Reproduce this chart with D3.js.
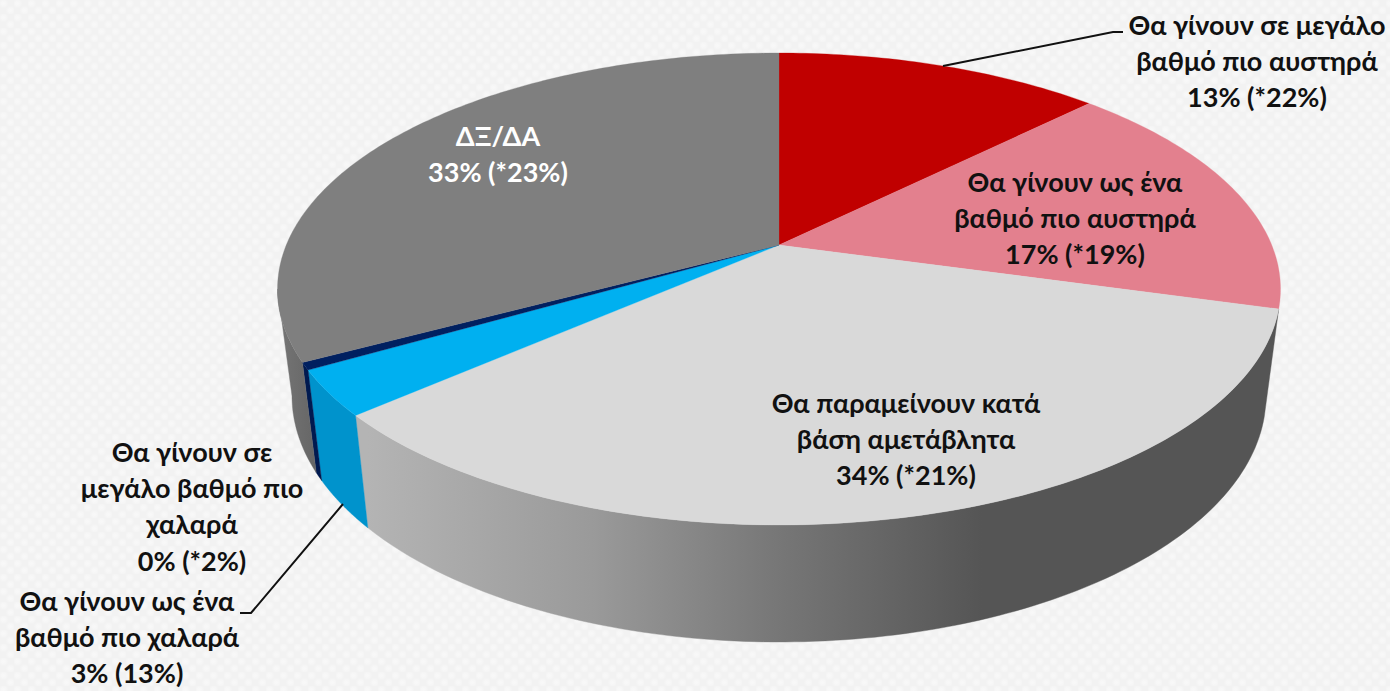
<!DOCTYPE html>
<html><head><meta charset="utf-8">
<script src="https://cdn.jsdelivr.net/npm/d3@7/dist/d3.min.js"></script>
<style>html,body{margin:0;padding:0;background:#f4f4f4;overflow:hidden}</style>
</head><body><svg id="c" width="1390" height="691"></svg>
<script>
const categories=["Θα γίνουν σε μεγάλο βαθμό πιο αυστηρά","Θα γίνουν ως ένα βαθμό πιο αυστηρά","Θα παραμείνουν κατά βάση αμετάβλητα","Θα γίνουν ως ένα βαθμό πιο χαλαρά","Θα γίνουν σε μεγάλο βαθμό πιο χαλαρά","ΔΞ/ΔΑ"];
const values=[12.6,16.7,34.3,3.1,0.5,32.8];
const topColors=["#c00000","#e3808e","#d9d9d9","#00b0f0","#002060","#7f7f7f"];
const wallColors=[null,null,"url(#wallGrad)","#0093cc","#001a50","url(#wallGray)"];
const labelLines=[
 ["Θα γίνουν σε μεγάλο","βαθμό πιο αυστηρά","13% (*22%)"],
 ["Θα γίνουν ως ένα","βαθμό πιο αυστηρά","17% (*19%)"],
 ["Θα παραμείνουν κατά","βάση αμετάβλητα","34% (*21%)"],
 ["Θα γίνουν ως ένα","βαθμό πιο χαλαρά","3% (13%)"],
 ["Θα γίνουν σε","μεγάλο βαθμό πιο","χαλαρά","0% (*2%)"],
 ["ΔΞ/ΔΑ","33% (*23%)"]];
const labelCx=[1257,1075,906,127,192,498];
const labelTop=[27,184,405,603,454,138];
const labelFill=["#111","#111","#111","#111","#111","#fff"];
const leaders=[[[943,66],[1113,32],[1123,32]],[[343,504],[251,613],[240,613]]];

const W=1390,H=691,lh=36.2;
const svg=d3.select("#c");
const defs=svg.append("defs");
const pat=defs.append("pattern").attr("id","bg").attr("patternUnits","userSpaceOnUse").attr("width",14).attr("height",14);
pat.append("rect").attr("width",14).attr("height",14).attr("fill","#f2f2f2");
const fl=defs.append("filter").attr("id","soft").attr("x","-50%").attr("y","-50%").attr("width","200%").attr("height","200%");
fl.append("feGaussianBlur").attr("stdDeviation",1.6);
[[3.5,3.5],[10.5,10.5]].forEach(d=>pat.append("circle").attr("cx",d[0]).attr("cy",d[1]).attr("r",3).attr("fill","#f9f9f9").attr("filter","url(#soft)"));
const wg=defs.append("linearGradient").attr("id","wallGrad").attr("gradientUnits","userSpaceOnUse").attr("x1",367).attr("x2",1265).attr("y1",0).attr("y2",0);
[[0,"#b4b4b4"],[.25,"#9a9a9a"],[.45,"#787878"],[.685,"#555555"],[1,"#555555"]].forEach(d=>wg.append("stop").attr("offset",d[0]).attr("stop-color",d[1]));
const wg2=defs.append("linearGradient").attr("id","wallGray").attr("gradientUnits","userSpaceOnUse").attr("x1",278).attr("x2",318).attr("y1",0).attr("y2",0);
wg2.append("stop").attr("offset",0).attr("stop-color","#757575");wg2.append("stop").attr("offset",1).attr("stop-color","#656565");
svg.append("rect").attr("width",W).attr("height",H).attr("fill","url(#bg)");

const cx=779,apexY=245,cyTop=289,rxTop=501.5,ryTop=236,cyBot=396,rxBot=487,ryBot=246;
const k=.1864,R=492.7,S=227.8;
const proj=a=>{const x=Math.sin(a),y=Math.cos(a),w=1+k*y;return [cx+R*x/w,apexY-S*y/w];};
const phiOf=p=>Math.atan2((p[1]-cyTop)/ryTop,(p[0]-cx)/rxTop);
const norm=p=>p<-Math.PI/2?p+2*Math.PI:p;
const arcs=d3.pie().sort(null)(values);
const line=d3.line();
const span=(a,b,n)=>d3.range(n+1).map(i=>a+(b-a)*i/n);
const gWall=svg.append("g"),gTop=svg.append("g");
arcs.forEach((d,i)=>{
  if(wallColors[i]){
    let p0=norm(phiOf(proj(d.startAngle))),p1=norm(phiOf(proj(d.endAngle)));
    if(p1>Math.PI) p1=Math.PI;
    if(p1>p0){
      const ph=span(p0,p1,120);
      const top=ph.map(p=>[cx+rxTop*Math.cos(p),cyTop+ryTop*Math.sin(p)]);
      const bot=ph.map(p=>[cx+rxBot*Math.cos(p),cyBot+ryBot*Math.sin(p)]).reverse();
      gWall.append("path").attr("d",line(top.concat(bot))+"Z").attr("fill",wallColors[i]).attr("stroke",wallColors[i]).attr("stroke-width",.4);
    }
  }
});
arcs.forEach((d,i)=>{
  const pts=span(d.startAngle,d.endAngle,Math.max(8,Math.ceil((d.endAngle-d.startAngle)*60))).map(proj);
  gTop.append("path").attr("d",line([[cx,apexY]].concat(pts))+"Z").attr("fill",topColors[i]).attr("stroke",topColors[i]).attr("stroke-width",.3);
});
leaders.forEach(l=>svg.append("path").attr("d",line(l)).attr("fill","none").attr("stroke","#111").attr("stroke-width",2));
labelLines.forEach((ls,i)=>{
  ls.forEach((t,j)=>svg.append("text").attr("x",labelCx[i]).attr("y",labelTop[i]+lh*j+8).attr("text-anchor","middle")
   .attr("font-family","Lato, 'Open Sans', sans-serif").attr("font-weight",700).attr("font-size",27).attr("fill",labelFill[i]).text(t));
});
</script></body></html>
